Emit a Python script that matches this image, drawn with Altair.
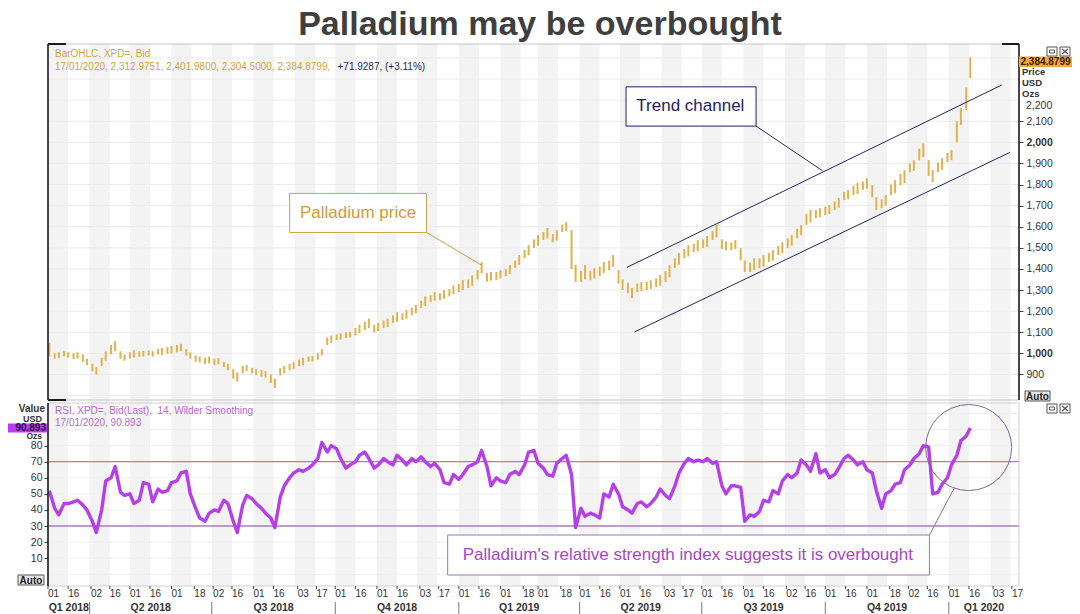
import altair as alt
import pandas as pd

FONT = "Liberation Sans"
TITLE = "Palladium may be overbought"

# ---------------- data ----------------
FRIDAYS = pd.date_range("2018-03-02", "2020-01-17", freq="W-FRI")
TUESDAYS = pd.date_range("2018-03-06", "2020-01-14", freq="W-TUE")
BAR_DATES = sorted(list(FRIDAYS) + list(TUESDAYS))

PRICE_LOW = [985,
 975, 978, 985, 980, 972, 975, 960, 945, 915, 900, 940, 965, 995, 1010, 975, 965,
 975, 980, 983, 985, 990, 985, 995, 992, 998, 1000, 1005, 1010, 990, 975, 960, 958,
 950, 952, 945, 948, 935, 920, 880, 866, 905, 915, 905, 898, 890, 885, 860, 836,
 895, 905, 920, 925, 940, 945, 960, 962, 970, 990, 1040, 1050, 1063, 1065, 1073, 1075,
 1085, 1095, 1110, 1120, 1100, 1105, 1120, 1125, 1145, 1150, 1158, 1165, 1180, 1190,
 1215, 1225, 1243, 1250, 1252, 1258, 1270, 1280, 1290, 1300, 1310, 1320, 1350, 1380,
 1340, 1345, 1348, 1355, 1366, 1375, 1404, 1420, 1451, 1465, 1500, 1510, 1537, 1545,
 1527, 1535, 1575, 1580, 1400, 1338, 1338, 1350, 1347, 1355, 1366, 1380, 1395, 1410,
 1330, 1300, 1285, 1262, 1290, 1295, 1300, 1305, 1314, 1320, 1338, 1360, 1404, 1420,
 1451, 1460, 1480, 1485, 1499, 1505, 1537, 1550, 1495, 1489, 1489, 1495, 1440, 1385,
 1385, 1395, 1404, 1410, 1433, 1440, 1466, 1475, 1499, 1510, 1546, 1560, 1608, 1620,
 1641, 1645, 1655, 1660, 1679, 1690, 1726, 1730, 1750, 1755, 1774, 1780, 1740, 1679,
 1688, 1700, 1750, 1760, 1797, 1805, 1858, 1865, 1915, 1930, 1840, 1812, 1859, 1870,
 1906, 1915, 2000, 2082, 2153, 2304.5]

PRICE_HIGH = [1050,
 1000, 1005, 1012, 1005, 1000, 1005, 995, 975, 950, 935, 980, 1010, 1040, 1060, 1010, 995,
 1005, 1015, 1010, 1012, 1015, 1010, 1022, 1025, 1030, 1035, 1040, 1045, 1020, 1005, 990, 985,
 980, 985, 975, 978, 960, 950, 925, 910, 940, 945, 932, 925, 920, 915, 900, 880,
 930, 940, 950, 958, 970, 978, 985, 988, 1000, 1020, 1075, 1085, 1090, 1095, 1100, 1102,
 1120, 1135, 1150, 1165, 1135, 1145, 1155, 1165, 1180, 1195, 1190, 1205, 1215, 1230,
 1250, 1270, 1275, 1290, 1285, 1300, 1305, 1322, 1330, 1347, 1350, 1370, 1395, 1432,
 1380, 1385, 1385, 1394, 1400, 1418, 1440, 1466, 1490, 1513, 1540, 1560, 1575, 1594,
 1565, 1584, 1610, 1622, 1584, 1420, 1390, 1418, 1390, 1404, 1410, 1433, 1440, 1466,
 1395, 1350, 1335, 1310, 1330, 1338, 1340, 1347, 1355, 1371, 1390, 1418, 1450, 1475,
 1495, 1513, 1520, 1537, 1540, 1556, 1580, 1610, 1540, 1530, 1525, 1537, 1499, 1440,
 1430, 1451, 1450, 1466, 1475, 1489, 1510, 1527, 1545, 1560, 1590, 1608, 1660, 1679,
 1680, 1688, 1695, 1703, 1720, 1736, 1765, 1774, 1795, 1807, 1815, 1830, 1797, 1740,
 1730, 1750, 1800, 1821, 1850, 1868, 1900, 1915, 1970, 1995, 1916, 1870, 1905, 1925,
 1950, 1963, 2100, 2163, 2260, 2401.98]

RSI_VALUES = [52,
 41, 37, 44, 44, 45, 46, 43, 40, 33, 26, 40, 58, 60, 67, 51, 49,
 50, 44, 46, 57, 56, 45, 53, 51, 52, 57, 58, 63, 64, 50, 41, 35,
 33, 38, 40, 39, 46, 44, 33, 26, 43, 49, 47, 44, 41, 38, 35, 29,
 48, 55, 60, 63, 65, 64, 66, 68, 72, 82, 76, 80, 78, 72, 66, 68,
 70, 74, 76, 72, 66, 68, 72, 70, 68, 74, 71, 68, 72, 70,
 73, 70, 67, 69, 65, 57, 56, 62, 59, 62, 67, 68, 70, 77,
 67, 55, 60, 58, 57, 62, 64, 62, 68, 76, 77, 69, 66, 62,
 61, 69, 72, 74, 62, 29, 41, 36, 38, 37, 35, 50, 48, 56,
 50, 42, 40, 38, 44, 45, 42, 44, 48, 53, 49, 47, 55, 63,
 69, 72, 70, 71, 70, 72, 69, 70, 55, 50, 55, 55, 54, 33,
 37, 36, 39, 46, 45, 52, 50, 58, 62, 60, 63, 71, 68, 64,
 75, 63, 65, 60, 62, 66, 72, 74, 71, 68, 70, 65, 63, 52,
 41, 50, 52, 56, 57, 65, 68, 72, 75, 80, 79, 50, 51, 56,
 60, 68, 74, 83, 86, 90.893]

TICK_DATES = ["2018-03-01", "2018-03-16",
              "2018-04-02", "2018-04-16", "2018-05-01", "2018-05-16", "2018-06-01", "2018-06-18",
              "2018-07-02", "2018-07-16", "2018-08-01", "2018-08-16", "2018-09-03", "2018-09-17",
              "2018-10-01", "2018-10-16", "2018-11-01", "2018-11-16", "2018-12-03", "2018-12-17",
              "2019-01-01", "2019-01-16", "2019-02-01", "2019-02-18", "2019-03-01", "2019-03-18",
              "2019-04-01", "2019-04-16", "2019-05-01", "2019-05-16", "2019-06-03", "2019-06-17",
              "2019-07-01", "2019-07-16", "2019-08-01", "2019-08-16", "2019-09-02", "2019-09-16",
              "2019-10-01", "2019-10-16", "2019-11-01", "2019-11-18", "2019-12-02", "2019-12-16",
              "2020-01-01", "2020-01-16", "2020-02-03", "2020-02-17"]
QUARTER_LABELS = ["Q1 2018", "Q2 2018", "Q3 2018", "Q4 2018", "Q1 2019",
                  "Q2 2019", "Q3 2019", "Q4 2019", "Q1 2020"]
QUARTER_STARTS = ["2018-01-01", "2018-04-01", "2018-07-01", "2018-10-01", "2019-01-01",
                  "2019-04-01", "2019-07-01", "2019-10-01", "2020-01-01", "2020-04-01"]
PRICE_TICKS = list(range(900, 2101, 100))
PRICE_TOP_LABEL = 2200
RSI_TICKS = list(range(10, 81, 10))
PRICE_GRID = list(range(800, 2501, 100))
RSI_GRID = [0, 10, 20, 40, 50, 60, 80, 90, 100]
RSI_LEVELS = [30, 70]

# annotations in data units
TREND_X = ["2019-05-06T07:00:00Z", "2019-05-11T19:00:00Z"]
TREND_Y = [1407.6, 1101]
TREND_X2 = ["2020-02-09T10:00:00Z", "2020-02-15T14:00:00Z"]
TREND_Y2 = [2271.5, 1952.6]

HEADER_1 = "BarOHLC, XPD=, Bid"
HEADER_2 = "17/01/2020, 2,312.9751, 2,401.9800, 2,304.5000, 2,384.8799,"
HEADER_3 = "+71.9287, (+3.11%)"
RSI_HEADER_1 = "RSI, XPD=, Bid(Last), \u00a014, Wilder Smoothing"
RSI_HEADER_2 = "17/01/2020, 90.893"
LAST_PRICE = "2,384.8799"
LAST_RSI = "90.893"

# ---------------- helpers ----------------
def ms(s):
    t = pd.Timestamp(s)
    if t.tzinfo is None:
        t = t.tz_localize("UTC")
    return int(t.value // 10**6)

X_DOMAIN = [ms("2018-03-01"), ms("2020-02-22T07:00:00")]
W, H = 971, 542

GOLD = "#e1b24c"
GOLD_TXT = "#d2a241"
NAVY = "#1e1e64"
PURPLE = "#b53fe9"
RSI_TXT = "#b46ad6"
GREY_TXT = "#333333"

xs = alt.Scale(type="utc", domain=X_DOMAIN)
ps = alt.Scale(domain=[779, 2466], range=[356, 0], zero=False, nice=False)
rs = alt.Scale(domain=[-7.3, 106.5], range=[542, 359], zero=False, nice=False)


def XT(f, axis=None):
    return alt.X(f, type="temporal", scale=xs, axis=axis)


def YP(f, axis=None):
    return alt.Y(f, type="quantitative", scale=ps, axis=axis)


def YR(f, axis=None):
    return alt.Y(f, type="quantitative", scale=rs, axis=axis)


def one(**cols):
    return pd.DataFrame({k: [v] for k, v in cols.items()})


def px_rect(x1, x2, y1, y2, **kw):
    return alt.Chart(one(k=0)).mark_rect(**kw).encode(
        x=alt.value(x1), x2=alt.value(x2), y=alt.value(y1), y2=alt.value(y2))


def px_rule(x1, x2, y1, y2, **kw):
    return alt.Chart(one(k=0)).mark_rule(**kw).encode(
        x=alt.value(x1), x2=alt.value(x2), y=alt.value(y1), y2=alt.value(y2))


def px_text(t, x, y, **kw):
    kw.setdefault("font", FONT)
    return alt.Chart(one(t=t)).mark_text(**kw).encode(
        x=alt.value(x), y=alt.value(y), text="t:N")


n = min(len(BAR_DATES), len(PRICE_LOW), len(PRICE_HIGH), len(RSI_VALUES))
bars = pd.DataFrame({
    "date": [d.strftime("%Y-%m-%d") for d in BAR_DATES[:n]],
    "low": PRICE_LOW[:n], "high": PRICE_HIGH[:n], "rsi": RSI_VALUES[:n]})

months = pd.date_range("2018-03-01", "2020-02-01", freq="MS")
bands = pd.DataFrame({"start": [ms(m) for m in months],
                      "end": [ms(m + pd.Timedelta(days=15)) for m in months]})

q_rows = []
for i, name in enumerate(QUARTER_LABELS):
    a = max(ms(QUARTER_STARTS[i]), X_DOMAIN[0])
    b = min(ms(QUARTER_STARTS[i + 1]), X_DOMAIN[1])
    q_rows.append({"q": name, "mid": (a + b) // 2})
quarters = pd.DataFrame(q_rows)
dividers = pd.DataFrame({"d": [ms(s) for s in QUARTER_STARTS[1:9]]})
ticks = pd.DataFrame({"d": [ms(s) for s in TICK_DATES],
                      "lab": [s[-2:] for s in TICK_DATES]})

# ---------------- axes ----------------
price_axis = alt.Axis(
    orient="right", values=PRICE_TICKS, format=",d", domain=False, grid=False,
    tickSize=4, tickColor="#444", labelFont=FONT, labelFontSize=10.5,
    labelColor=GREY_TXT, labelPadding=3, title=None, labelOverlap=False,
    labelFlush=False, labelBound=False,
    labelFontWeight={"condition": {"test": "datum.value % 1000 === 0", "value": "bold"},
                     "value": "normal"})
rsi_axis = alt.Axis(
    orient="left", values=RSI_TICKS, domain=False, grid=False, tickSize=4,
    tickColor="#444", labelFont=FONT, labelFontSize=10.5, labelColor=GREY_TXT,
    labelPadding=2, title=None, labelOverlap=False, labelFlush=False)

layers = []

# month shading
layers.append(alt.Chart(bands).mark_rect(clip=True, color="#f3f3f3").encode(
    x=XT("start"), x2=alt.X2("end"), y=alt.value(0), y2=alt.value(H)))

# grids
layers.append(alt.Chart(pd.DataFrame({"p": PRICE_GRID})).mark_rule(
    color="#ececec", strokeWidth=1, clip=True).encode(
    y=YP("p"), x=alt.value(0), x2=alt.value(W)))
layers.append(alt.Chart(pd.DataFrame({"r": RSI_GRID})).mark_rule(
    color="#f0f0f0", strokeWidth=1).encode(
    y=YR("r"), x=alt.value(0), x2=alt.value(W)))
layers.append(alt.Chart(pd.DataFrame({"r": RSI_LEVELS})).mark_rule(
    color="#a67fb6", strokeWidth=1.3).encode(
    y=YR("r"), x=alt.value(0), x2=alt.value(W)))

# price bars
layers.append(alt.Chart(bars).mark_rule(color=GOLD, strokeWidth=2).encode(
    x=XT("date"), y=YP("low", price_axis), y2=alt.Y2("high")))
layers.append(alt.Chart(one(p=PRICE_TOP_LABEL, t="2,200")).mark_text(
    font=FONT, fontSize=10.5, color=GREY_TXT, align="left", dy=6).encode(
    x=alt.value(W + 7), y=YP("p"), text="t:N"))

# trend channel
trend = pd.DataFrame({"x": TREND_X, "y": TREND_Y, "x2": TREND_X2, "y2": TREND_Y2})
layers.append(alt.Chart(trend).mark_rule(color="#26265c", strokeWidth=1).encode(
    x=XT("x"), x2=alt.X2("x2"), y=YP("y"), y2=alt.Y2("y2")))

# annotation: Palladium price
layers.append(alt.Chart(one(x="2018-12-08", y=1573, x2="2019-01-18", y2=1418)).mark_rule(
    color="#c9a04a", strokeWidth=1).encode(x=XT("x"), x2=alt.X2("x2"), y=YP("y"), y2=alt.Y2("y2")))
layers.append(alt.Chart(one(x="2018-08-28", x2="2018-12-08", y=1573, y2=1758)).mark_rect(
    fill="white", stroke="#c9a04a", strokeWidth=1).encode(
    x=XT("x"), x2=alt.X2("x2"), y=YP("y"), y2=alt.Y2("y2")))
layers.append(alt.Chart(one(x="2018-10-18", y=1665, t="Palladium price")).mark_text(
    font=FONT, fontSize=17, color="#d19c33").encode(x=XT("x"), y=YP("y"), text="t:N"))

# annotation: Trend channel
layers.append(alt.Chart(one(x="2019-08-10T10:00:00Z", y=2077, x2="2019-09-29T00:00:00Z", y2=1865)).mark_rule(
    color="#26265c", strokeWidth=1).encode(x=XT("x"), x2=alt.X2("x2"), y=YP("y"), y2=alt.Y2("y2")))
layers.append(alt.Chart(one(x="2019-05-05T14:00:00Z", x2="2019-08-10T10:00:00Z", y=2077, y2=2263)).mark_rect(
    fill="white", stroke=NAVY, strokeWidth=1).encode(
    x=XT("x"), x2=alt.X2("x2"), y=YP("y"), y2=alt.Y2("y2")))
layers.append(alt.Chart(one(x="2019-06-22T12:00:00Z", y=2170, t="Trend channel")).mark_text(
    font=FONT, fontSize=17, color=NAVY).encode(x=XT("x"), y=YP("y"), text="t:N"))

# RSI line
layers.append(alt.Chart(bars).mark_line(color=PURPLE, strokeWidth=3.4, strokeJoin="round").encode(
    x=XT("date"), y=YR("rsi", rsi_axis)))

# annotation: RSI
layers.append(alt.Chart(one(x="2019-12-17T14:00:00Z", y=24.4, x2="2020-01-05T00:00:00Z", y2=53.6)).mark_rule(
    color="#8c7098", strokeWidth=1).encode(x=XT("x"), x2=alt.X2("x2"), y=YR("y"), y2=alt.Y2("y2")))
layers.append(alt.Chart(one(x="2020-01-15T19:00:00Z", y=78.8)).mark_point(
    shape="circle", filled=False, size=7396, color="#7f6a8c", strokeWidth=1, opacity=1).encode(
    x=XT("x"), y=YR("y")))
layers.append(alt.Chart(one(x="2018-12-23T17:00:00Z", x2="2019-12-17T14:00:00Z", y=-0.46, y2=24.4)).mark_rect(
    fill="white", stroke="#9c7aaa", strokeWidth=1).encode(
    x=XT("x"), x2=alt.X2("x2"), y=YR("y"), y2=alt.Y2("y2")))
layers.append(alt.Chart(one(x="2019-06-20T15:00:00Z", y=12,
                            t="Palladium's relative strength index suggests it is overbought")).mark_text(
    font=FONT, fontSize=17, color="#a646c8").encode(x=XT("x"), y=YR("y"), text="t:N"))

# panel borders
layers += [
    px_rule(0, W, 0, 0, color="#c6c6c6", strokeWidth=1),
    px_rule(0, W, 356, 356, color="#c6c6c6", strokeWidth=1),
    px_rule(0, 0, 0, 356, color="#1a1a1a", strokeWidth=1.6),
    px_rule(W, W, 0, 356, color="#1a1a1a", strokeWidth=1.6),
    px_rule(0, 18, 0, 0, color="#1a1a1a", strokeWidth=2),
    px_rule(0, 18, 356, 356, color="#1a1a1a", strokeWidth=2),
    px_rule(W - 17, W, 0, 0, color="#1a1a1a", strokeWidth=2),
    px_rule(0, W, 359, 359, color="#d0d0d0", strokeWidth=1),
    px_rule(0, W, H, H, color="#d0d0d0", strokeWidth=1),
    px_rule(0, 0, 359, H, color="#1a1a1a", strokeWidth=1.6),
    px_rule(W, W, 359, H, color="#cfcfcf", strokeWidth=1),
]

# date axis: day ticks, day labels, quarter labels and dividers
layers.append(alt.Chart(ticks).mark_rule(color="#444444", strokeWidth=1).encode(
    x=XT("d"), y=alt.value(H), y2=alt.value(H + 3)))
layers.append(alt.Chart(ticks).mark_text(
    font=FONT, fontSize=10, color=GREY_TXT, align="left", dx=0).encode(
    x=XT("d"), y=alt.value(H + 8), text="lab:N"))
layers.append(alt.Chart(quarters).mark_text(
    font=FONT, fontSize=10.5, fontWeight="bold", color=GREY_TXT).encode(
    x=XT("mid"), y=alt.value(H + 21.5), text="q:N"))
layers.append(alt.Chart(dividers).mark_rule(color="#7a7a7a", strokeWidth=1).encode(
    x=XT("d"), y=alt.value(H + 16), y2=alt.value(H + 28)))

# header texts
layers += [
    px_text(TITLE, 492, -9, fontSize=34, fontWeight="bold", color="#3f3f3f",
            baseline="alphabetic", align="center"),
    px_text(HEADER_1, 7, 9.5, fontSize=10, color=GOLD_TXT, align="left"),
    px_text(HEADER_2, 7, 22.5, fontSize=10, color=GOLD_TXT, align="left"),
    px_text(HEADER_3, 289.5, 22.5, fontSize=10, color=NAVY, align="left"),
    px_text(RSI_HEADER_1, 7, 367, fontSize=10, color=RSI_TXT, align="left"),
    px_text(RSI_HEADER_2, 7, 378.5, fontSize=10, color=RSI_TXT, align="left"),
]

# right side of price panel
layers += [
    px_rect(971, 1024, 12.5, 23, fill="#f2a93b"),
    px_text(LAST_PRICE, 972.5, 18, fontSize=10, fontWeight="bold", color="#3a1a00", align="left"),
    px_text("Price", 974, 28, fontSize=9.5, fontWeight="bold", color=GREY_TXT, align="left"),
    px_text("USD", 974, 38.5, fontSize=9.5, fontWeight="bold", color=GREY_TXT, align="left"),
    px_text("Ozs", 974, 49.5, fontSize=9.5, fontWeight="bold", color=GREY_TXT, align="left"),
    px_rect(977, 1002, 347, 357, fill="#e6e6e6", stroke="#555555", strokeWidth=1),
    px_text("Auto", 989.5, 352.5, fontSize=10, fontWeight="bold", color="#222222"),
]

# small window icons
for y0 in (3, 360):
    layers += [
        px_rect(999, 1009, y0, y0 + 9, fill="white", stroke="#555555", strokeWidth=1),
        px_rect(1001.5, 1006.5, y0 + 3, y0 + 6, fill="white", stroke="#555555", strokeWidth=1),
        px_rect(1012, 1022, y0, y0 + 9, fill="white", stroke="#555555", strokeWidth=1),
        px_rule(1014, 1020, y0 + 2, y0 + 7, color="#555555", strokeWidth=1.2),
        px_rule(1020, 1014, y0 + 2, y0 + 7, color="#555555", strokeWidth=1.2),
    ]

# left side of RSI panel
layers += [
    px_text("Value", -3, 364.5, fontSize=10, fontWeight="bold", color=GREY_TXT, align="right"),
    px_text("USD", -6, 374.5, fontSize=9, fontWeight="bold", color=GREY_TXT, align="right"),
    px_rect(-40, -1, 379.5, 388.5, fill="#bb3cf0"),
    px_text(LAST_RSI, -2, 384, fontSize=10, fontWeight="bold", color="#2d0a40", align="right"),
    px_text("Ozs", -6, 392, fontSize=8.5, fontWeight="bold", color=GREY_TXT, align="right"),
    px_rect(-30, -4, 531, 541, fill="#e6e6e6", stroke="#555555", strokeWidth=1),
    px_text("Auto", -17, 536.5, fontSize=10, fontWeight="bold", color="#222222"),
]

chart = alt.layer(*layers).resolve_scale(y="independent").properties(
    width=W, height=H,
    autosize=alt.AutoSizeParams(type="none"),
    padding={"left": 40, "top": 36, "right": 53, "bottom": 28},
    background="white",
).configure_view(stroke=None)

chart.save("out.html", embed_options={"renderer": "svg", "actions": False})
